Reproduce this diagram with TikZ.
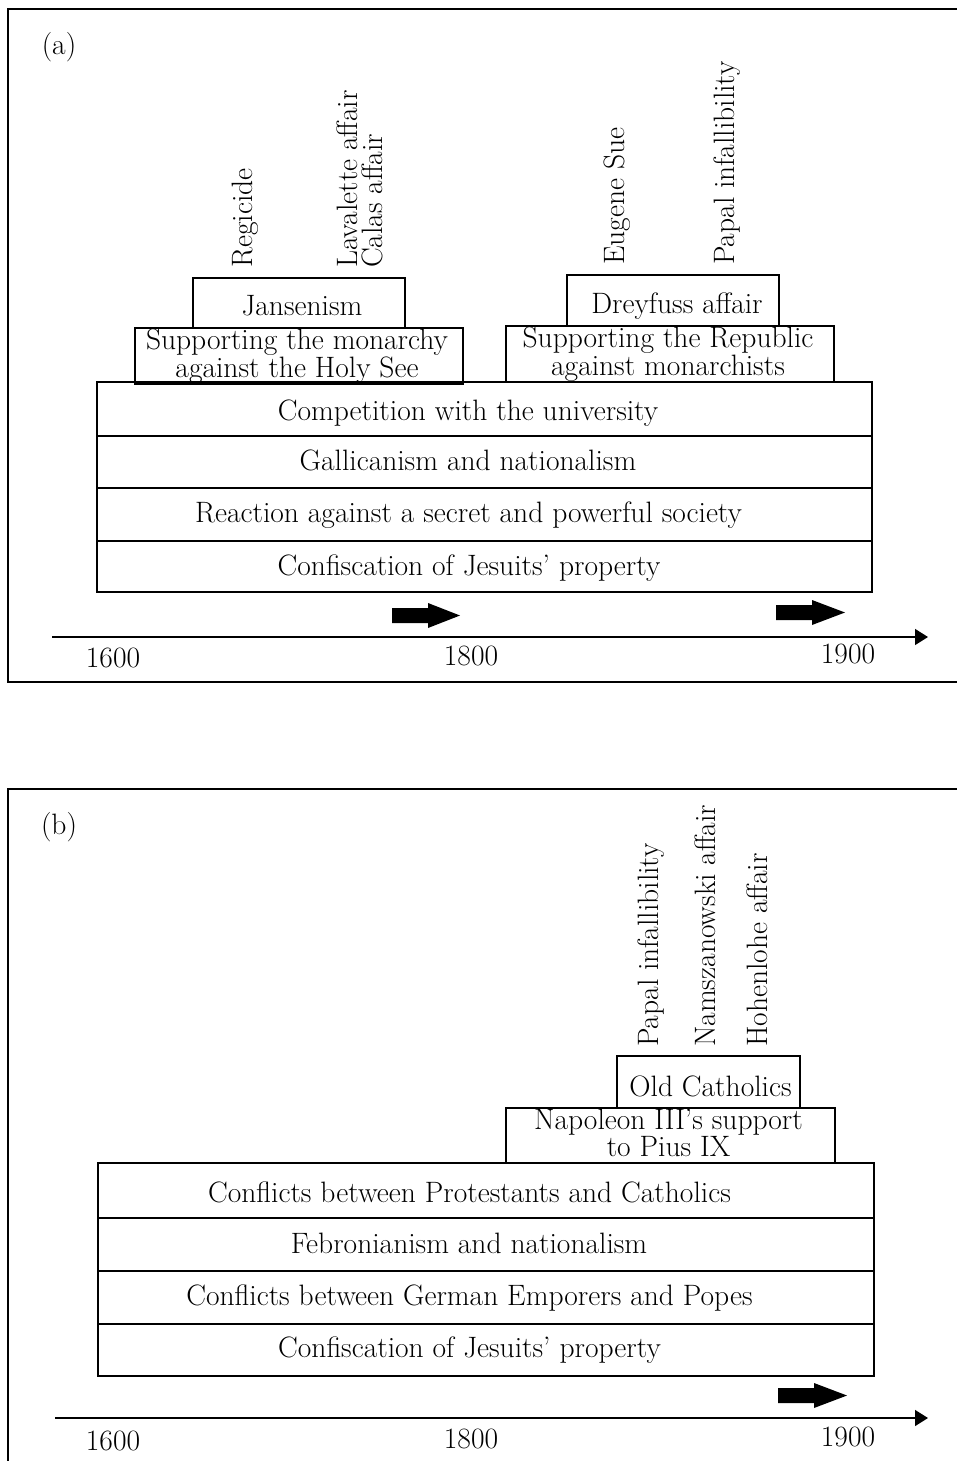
\documentclass[tikz,border=0pt]{standalone}
\usetikzlibrary{arrows.meta}
\newcommand\bxfont{\fontsize{29.5}{23.5}\selectfont}
\newcommand\vlfont{\fontsize{29.5}{25}\selectfont}
\begin{document}
\begin{tikzpicture}[x=1pt,y=-1pt,
  box/.style={draw, line width=2.1pt, inner sep=0pt, align=center, font=\bxfont},
  rowtext/.style={anchor=base, inner sep=0pt, font=\bxfont},
  vlabel/.style={rotate=90, anchor=west, inner sep=0pt, align=left, font=\vlfont},
  year/.style={inner sep=0pt, font=\bxfont},
  frame/.style={line width=1.4pt},
  axis/.style={line width=1.4pt, -{Triangle[length=13pt,width=16pt]}},
  fatarrow/.style={fill=black}]
\useasboundingbox (0,0) rectangle (957,1461);

% ---------------- panel (a) ----------------
\draw[frame] (957,9) -- (8,9) -- (8,682) -- (957,682);
\node[year] (la) at (59,47) {(a)};

\node[vlabel] (regicide) at (245,268) {Regicide};
\node[vlabel] (lavcal) at (360,268) {Lavalette affair\\Calas affair};
\node[vlabel] (eugene) at (617,265) {Eugene Sue};
\node[vlabel] (papalA) at (727,265) {Papal infallibility};

\node[box, minimum width=212pt, minimum height=50pt] (jans) at (299,303) {};
\node[rowtext] (jans-t) at (302,315) {Jansenism};
\node[box, minimum width=328pt, minimum height=56pt] (monar) at (299,356) {};
\node[rowtext, align=center] (monar-t) at (297,377) {Supporting the monarchy\\against the Holy See};
\node[box, minimum width=212pt, minimum height=51pt] (drey) at (673,300.5) {};
\node[rowtext] (drey-t) at (677,313) {Dreyfuss affair};
\node[box, minimum width=328pt, minimum height=56pt] (repub) at (670,354) {};
\node[rowtext, align=center] (repub-t) at (668,375) {Supporting the Republic\\against monarchists};

\node[box, minimum width=775pt, minimum height=54pt] (compet) at (484.5,409) {};
\node[rowtext] (compet-t) at (468,420) {Competition with the university};
\node[box, minimum width=775pt, minimum height=52pt] (gall) at (484.5,462) {};
\node[rowtext] (gall-t) at (468,470) {Gallicanism and nationalism};
\node[box, minimum width=775pt, minimum height=53pt] (react) at (484.5,514.5) {};
\node[rowtext] (react-t) at (468.5,522) {Reaction against a secret and powerful society};
\node[box, minimum width=775pt, minimum height=51pt] (confA) at (484.5,566.5) {};
\node[rowtext] (confA-t) at (469,575) {Confiscation of Jesuits' property};

\fill[fatarrow] (392,608) -- (428,608) -- (428,603) -- (460,615.5) -- (428,628) -- (428,623) -- (392,623) -- cycle;
\fill[fatarrow] (776,605) -- (812,605) -- (812,600) -- (845,612.5) -- (812,625) -- (812,620) -- (776,620) -- cycle;

\coordinate (axAs) at (52,637);
\coordinate (axAe) at (928,637);
\draw[axis] (axAs) -- (axAe);
\node[year] (a1600) at (113,658) {1600};
\node[year] (a1800) at (471,656) {1800};
\node[year] (a1900) at (848,654) {1900};

% ---------------- panel (b) ----------------
\draw[frame] (957,789) -- (8,789) -- (8,1461);
\node[year] (lb) at (59,827) {(b)};

\node[vlabel] (papalB) at (651,1047) {Papal infallibility};
\node[vlabel] (namsz) at (705,1047) {Namszanowski affair};
\node[vlabel] (hohen) at (757,1047) {Hohenlohe affair};

\node[box, minimum width=183pt, minimum height=52pt] (oldcath) at (708.5,1082) {};
\node[rowtext] (oldcath-t) at (710.5,1096) {Old Catholics};
\node[box, minimum width=329pt, minimum height=55pt] (napol) at (670.5,1135.5) {};
\node[rowtext, align=center] (napol-t) at (668.5,1156) {Napoleon III's support\\to Pius IX};

\node[box, minimum width=776pt, minimum height=55pt] (confl) at (486,1190.5) {};
\node[rowtext] (confl-t) at (469.5,1202) {Conflicts between Protestants and Catholics};
\node[box, minimum width=776pt, minimum height=53pt] (febr) at (486,1244.5) {};
\node[rowtext] (febr-t) at (469,1253) {Febronianism and nationalism};
\node[box, minimum width=776pt, minimum height=53pt] (germ) at (486,1297.5) {};
\node[rowtext] (germ-t) at (469.5,1305) {Conflicts between German Emporers and Popes};
\node[box, minimum width=776pt, minimum height=52pt] (confB) at (486,1350) {};
\node[rowtext] (confB-t) at (469.5,1357) {Confiscation of Jesuits' property};

\fill[fatarrow] (778,1388) -- (814,1388) -- (814,1383) -- (847,1395.5) -- (814,1408) -- (814,1403) -- (778,1403) -- cycle;

\coordinate (axBs) at (55,1418);
\coordinate (axBe) at (928,1418);
\draw[axis] (axBs) -- (axBe);
\node[year] (b1600) at (113,1441) {1600};
\node[year] (b1800) at (471,1439) {1800};
\node[year] (b1900) at (848,1437) {1900};
\end{tikzpicture}
\end{document}
